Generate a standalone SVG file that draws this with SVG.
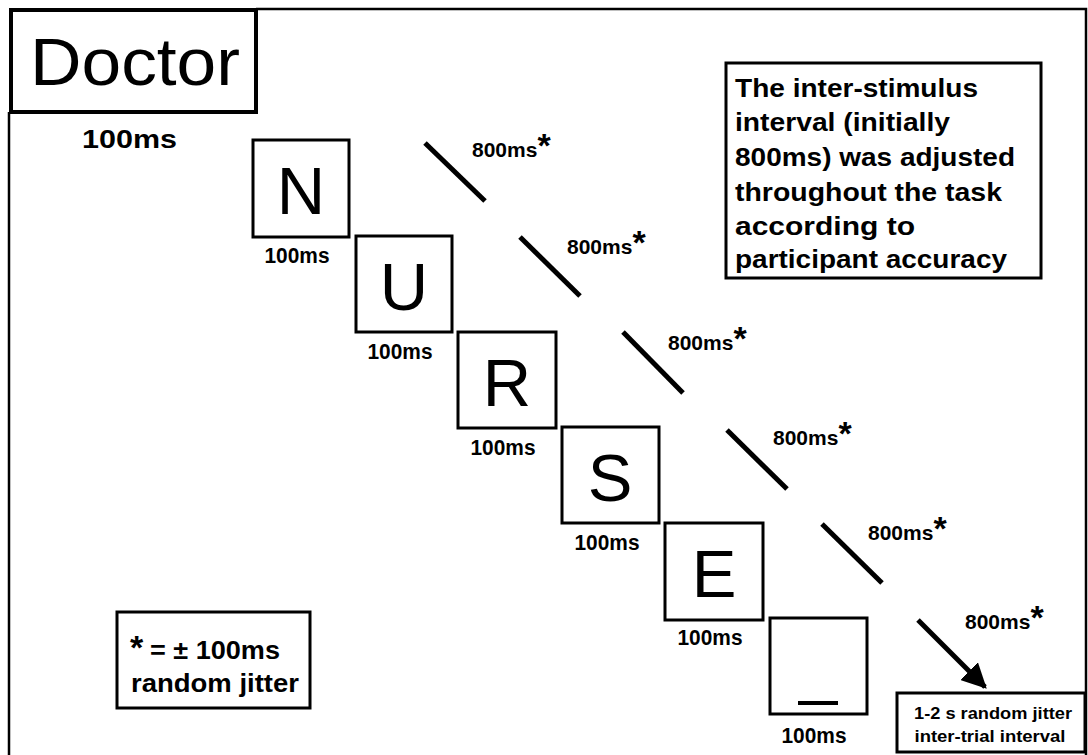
<svg xmlns="http://www.w3.org/2000/svg" width="1088" height="755" viewBox="0 0 1088 755">
<style>
.frame{fill:none;stroke:#000;stroke-width:2.5}
.box{fill:#fff;stroke:#000;stroke-width:3}
.bigbox{fill:#fff;stroke:#000;stroke-width:4}
.letter{font-family:"Liberation Sans",Arial,sans-serif;font-size:67px;text-anchor:middle;fill:#000}
.lbl{font-family:"Liberation Sans",Arial,sans-serif;font-size:22px;font-weight:bold;text-anchor:middle;fill:#000}
.dur{font-family:"Liberation Sans",Arial,sans-serif;font-size:21px;font-weight:bold;fill:#000}
.ast{font-size:34px}
.info{font-family:"Liberation Sans",Arial,sans-serif;font-size:25px;font-weight:bold;fill:#000}
.small{font-family:"Liberation Sans",Arial,sans-serif;font-size:16px;font-weight:bold;text-anchor:middle;fill:#000}
.conn{stroke:#000;stroke-width:5;stroke-linecap:butt}
</style>
<defs>
<marker id="ah" markerWidth="5" markerHeight="5" refX="4.5" refY="2.5" orient="auto" markerUnits="strokeWidth">
<path d="M0,0 L5,2.5 L0,5 Z" fill="#000"/>
</marker>
</defs>
<rect width="1088" height="755" fill="#fff"/>
<g id="frame">
<path class="frame" d="M9,112 V755 M256,9 H1086 V755"/>
</g>
<g id="doctor">
<rect class="bigbox" x="11" y="10" width="245" height="102"/>
<text x="30" y="85" font-family="Liberation Sans, Arial, sans-serif" font-size="67" textLength="210" lengthAdjust="spacingAndGlyphs">Doctor</text>
<text x="82" y="148" font-family="Liberation Sans, Arial, sans-serif" font-size="26" font-weight="bold" textLength="95" lengthAdjust="spacingAndGlyphs">100ms</text>
</g>
<g id="node-N">
<rect class="box" x="253" y="140" width="96" height="97"/>
<text class="letter" x="301" y="214">N</text>
<text class="lbl" x="297" y="263" textLength="65" lengthAdjust="spacingAndGlyphs">100ms</text>
</g>
<g id="node-U">
<rect class="box" x="356" y="236" width="96" height="96"/>
<text class="letter" x="404" y="310">U</text>
<text class="lbl" x="400" y="359" textLength="65" lengthAdjust="spacingAndGlyphs">100ms</text>
</g>
<g id="node-R">
<rect class="box" x="458" y="332" width="98" height="96"/>
<text class="letter" x="507" y="406">R</text>
<text class="lbl" x="503" y="455" textLength="65" lengthAdjust="spacingAndGlyphs">100ms</text>
</g>
<g id="node-S">
<rect class="box" x="562" y="427" width="97" height="96"/>
<text class="letter" x="610" y="501">S</text>
<text class="lbl" x="607" y="550" textLength="65" lengthAdjust="spacingAndGlyphs">100ms</text>
</g>
<g id="node-E">
<rect class="box" x="665" y="523" width="98" height="97"/>
<text class="letter" x="714" y="597">E</text>
<text class="lbl" x="710" y="645" textLength="65" lengthAdjust="spacingAndGlyphs">100ms</text>
</g>
<g id="node-blank">
<rect class="box" x="770" y="618" width="97" height="96"/>
<rect x="798" y="701" width="40" height="4" fill="#000"/>
<text class="lbl" x="814" y="743" textLength="65" lengthAdjust="spacingAndGlyphs">100ms</text>
</g>
<g id="connectors">
<line class="conn" x1="425" y1="143" x2="485" y2="201"/>
<line class="conn" x1="520" y1="237" x2="580" y2="296"/>
<line class="conn" x1="623" y1="332" x2="683" y2="393"/>
<line class="conn" x1="727" y1="430" x2="787" y2="489"/>
<line class="conn" x1="822" y1="524" x2="882" y2="583"/>
<line class="conn" x1="918" y1="620" x2="985" y2="687" marker-end="url(#ah)"/>
</g>
<g id="isi-labels">
<text class="dur" x="472" y="157">800ms<tspan class="ast">*</tspan></text>
<text class="dur" x="567" y="254">800ms<tspan class="ast">*</tspan></text>
<text class="dur" x="668" y="350">800ms<tspan class="ast">*</tspan></text>
<text class="dur" x="773" y="445">800ms<tspan class="ast">*</tspan></text>
<text class="dur" x="868" y="540">800ms<tspan class="ast">*</tspan></text>
<text class="dur" x="965" y="629">800ms<tspan class="ast">*</tspan></text>
</g>
<g id="info-note">
<rect class="box" x="726" y="63" width="315" height="215"/>
<text class="info" x="735" y="97" textLength="243" lengthAdjust="spacingAndGlyphs">The inter-stimulus</text>
<text class="info" x="735" y="131" textLength="215" lengthAdjust="spacingAndGlyphs">interval (initially</text>
<text class="info" x="735" y="166" textLength="280" lengthAdjust="spacingAndGlyphs">800ms) was adjusted</text>
<text class="info" x="735" y="201" textLength="267" lengthAdjust="spacingAndGlyphs">throughout the task</text>
<text class="info" x="735" y="235" textLength="180" lengthAdjust="spacingAndGlyphs">according to</text>
<text class="info" x="735" y="268" textLength="272" lengthAdjust="spacingAndGlyphs">participant accuracy</text>
</g>
<g id="legend">
<rect class="box" x="117" y="612" width="193" height="96"/>
<text class="info" x="130" y="659"><tspan style="font-size:34px">*</tspan><tspan x="150" textLength="130" lengthAdjust="spacingAndGlyphs">= ± 100ms</tspan></text>
<text class="info" x="131" y="692" textLength="168" lengthAdjust="spacingAndGlyphs">random jitter</text>
</g>
<g id="iti-box">
<rect class="box" x="897" y="693" width="188" height="59"/>
<text class="small" x="993" y="719" textLength="158" lengthAdjust="spacingAndGlyphs">1-2 s random jitter</text>
<text class="small" x="990" y="742" textLength="151" lengthAdjust="spacingAndGlyphs">inter-trial interval</text>
</g>
</svg>
